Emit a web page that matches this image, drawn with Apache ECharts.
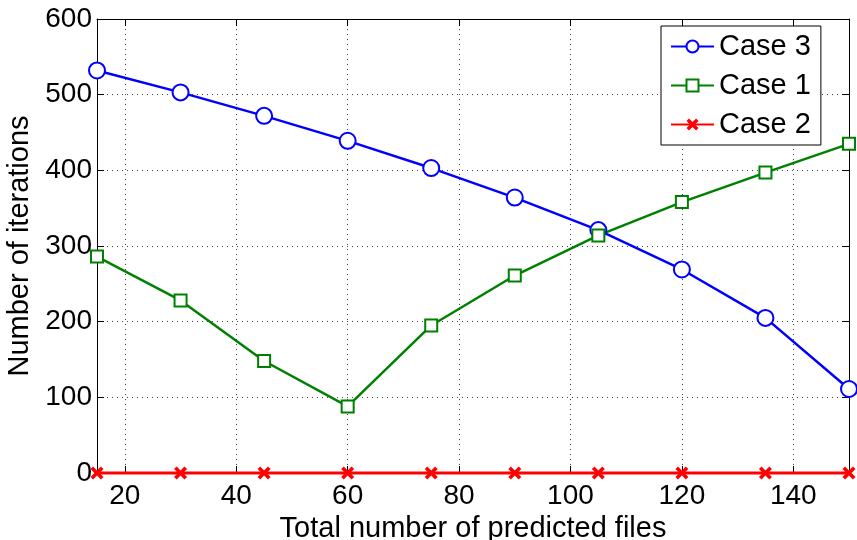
<!DOCTYPE html>
<html>
<head>
<meta charset="utf-8">
<script src="https://cdn.jsdelivr.net/npm/echarts@6/dist/echarts.min.js"></script>
<style>html,body{margin:0;padding:0;background:#fff}#c{width:857px;height:540px}</style>
</head>
<body>
<div id="c"></div>
<script>
const filesX = [15, 30, 45, 60, 75, 90, 105, 120, 135, 150];
const case3 = [532, 503, 472, 439, 403, 364, 321, 269, 205, 111];
const case1 = [286, 228, 148, 88, 195, 261, 314, 358, 397, 435];
const case2 = [0, 0, 0, 0, 0, 0, 0, 0, 0, 0];
const xTicks = [20, 40, 60, 80, 100, 120, 140];
const yTicks = [0, 100, 200, 300, 400, 500, 600];
const seriesNames = ['Case 3', 'Case 1', 'Case 2'];

const FONT = 'Liberation Sans, Arial, sans-serif';
const crossPath = 'path://M2,0L5,3L8,0L10,2L7,5L10,8L8,10L5,7L2,10L0,8L3,5L0,2Z';
const pair = (ys) => filesX.map((x, i) => [x, ys[i]]);

const chart = echarts.init(document.getElementById('c'), null, {renderer: 'canvas'});
const gridLine = {show: true, lineStyle: {color: '#444', width: 1, type: [1, 4]}};
chart.setOption({
  animation: false,
  backgroundColor: '#fff',
  textStyle: {fontFamily: FONT},
  grid: {left: 97, top: 19, right: 8, bottom: 67, containLabel: false, outerBoundsMode: 'none'},
  legend: {
    orient: 'vertical', left: 661, top: 26,
    backgroundColor: '#fff', borderColor: '#000', borderWidth: 1,
    padding: [6, 10, 6, 9], itemGap: 10, itemWidth: 43, itemHeight: 15,
    textStyle: {fontSize: 29, color: '#000', fontFamily: FONT},
    data: seriesNames
  },
  xAxis: [{
    type: 'value', min: 15, max: 150, position: 'bottom',
    name: 'Total number of predicted files', nameLocation: 'middle', nameGap: 34,
    nameTextStyle: {fontSize: 29, color: '#000', fontFamily: FONT},
    axisLine: {show: true, onZero: false, lineStyle: {color: '#000', width: 1}},
    axisTick: {show: true, inside: true, length: 7, customValues: xTicks, lineStyle: {color: '#000'}},
    axisLabel: {fontSize: 28, color: '#000', margin: 9, customValues: xTicks, fontFamily: FONT},
    splitLine: gridLine
  }, {
    type: 'value', min: 15, max: 150, position: 'top',
    axisLine: {show: true, onZero: false, lineStyle: {color: '#000', width: 1}},
    axisTick: {show: true, inside: true, length: 7, customValues: xTicks, lineStyle: {color: '#000'}},
    axisLabel: {show: false}, splitLine: {show: false}
  }],
  yAxis: [{
    type: 'value', min: 0, max: 600, interval: 100, position: 'left',
    name: 'Number of iterations', nameLocation: 'middle', nameGap: 57,
    nameTextStyle: {fontSize: 29, color: '#000', fontFamily: FONT},
    axisLine: {show: true, onZero: false, lineStyle: {color: '#000', width: 1}},
    axisTick: {show: true, inside: true, length: 7, lineStyle: {color: '#000'}},
    axisLabel: {fontSize: 28, color: '#000', margin: 5, fontFamily: FONT},
    splitLine: gridLine
  }, {
    type: 'value', min: 0, max: 600, interval: 100, position: 'right',
    axisLine: {show: true, onZero: false, lineStyle: {color: '#000', width: 1}},
    axisTick: {show: true, inside: true, length: 7, lineStyle: {color: '#000'}},
    axisLabel: {show: false}, splitLine: {show: false}
  }],
  series: [{
    name: seriesNames[0], type: 'line', data: pair(case3), clip: false,
    symbol: 'emptyCircle', symbolSize: 16,
    lineStyle: {color: '#0000ff', width: 2.5},
    itemStyle: {color: '#0000ff', borderColor: '#0000ff', borderWidth: 2.5}
  }, {
    name: seriesNames[1], type: 'line', data: pair(case1), clip: false,
    symbol: 'emptyRect', symbolSize: 12,
    lineStyle: {color: '#008000', width: 2.5},
    itemStyle: {color: '#008000', borderColor: '#008000', borderWidth: 2.5}
  }, {
    name: seriesNames[2], type: 'line', data: pair(case2), clip: false,
    symbol: crossPath, symbolSize: 13,
    lineStyle: {color: '#ff0000', width: 3},
    itemStyle: {color: '#ff0000'}
  }]
});
</script>
</body>
</html>
